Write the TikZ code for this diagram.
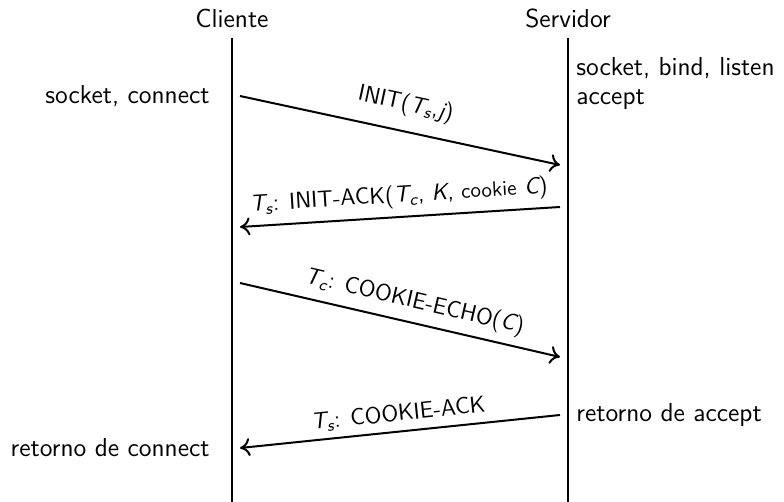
\documentclass[tikz,border=0pt]{standalone}
\usepackage{amsmath}
\usepackage{fontspec}
\usetikzlibrary{arrows.meta}
\newcommand{\msgT}[1]{$\textit{T}_{\textit{#1}}$}
\begin{document}
\begin{tikzpicture}[x=0.5pt,y=-0.5pt,
  every node/.style={font=\sffamily\fontsize{13}{15}\selectfont, inner sep=2pt},
  lifeline/.style={line width=1pt},
  msg/.style={line width=1pt,-{To[length=5pt,width=9pt]}},
  lbl/.style={midway, sloped, above, inner sep=3pt, font=\sffamily\fontsize{11.6}{14}\selectfont},
  leftnote/.style={anchor=east},
  rightnote/.style={anchor=west}]
\useasboundingbox (0,0) rectangle (784,502);

% participants and lifelines
\node (cli) at (232,18) {Cliente};
\node (srv) at (568,18) {Servidor};
\coordinate (cliTop) at (232,38);
\coordinate (cliBot) at (232,502);
\coordinate (srvTop) at (568,38);
\coordinate (srvBot) at (568,502);
\draw[lifeline] (cliTop) -- (cliBot);
\draw[lifeline] (srvTop) -- (srvBot);

% system calls
\node[leftnote] (conn) at (214,96) {socket, connect};
\node[rightnote] (bind) at (572,68) {socket, bind, listen};
\node[rightnote] (acc) at (572,100) {accept};
\node[rightnote] (racc) at (572,415) {retorno de accept};
\node[leftnote] (rconn) at (214,448) {retorno de connect};

% message end points
\coordinate (m1a) at (240,96);
\coordinate (m1b) at (560,165);
\coordinate (m2a) at (560,207);
\coordinate (m2b) at (240,227);
\coordinate (m3a) at (240,283);
\coordinate (m3b) at (560,357);
\coordinate (m4a) at (560,415);
\coordinate (m4b) at (240,448);

% four-way handshake
\draw[msg] (m1a) -- node[lbl, inner sep=7pt] (l1) {INIT(\msgT{s},$\textit{j}$)} (m1b);
\draw[msg] (m2a) -- node[lbl, inner sep=4pt] (l2) {\msgT{s}: INIT-ACK(\msgT{c}, $\textit{K}$, {\fontsize{10.5}{12}\selectfont cookie} $\textit{C}$)} (m2b);
\draw[msg] (m3a) -- node[lbl, pos=0.53, inner sep=4pt] (l3) {\msgT{c}: COOKIE-ECHO($\textit{C}$)} (m3b);
\draw[msg] (m4a) -- node[lbl] (l4) {\msgT{s}: COOKIE-ACK} (m4b);
\end{tikzpicture}
\end{document}
